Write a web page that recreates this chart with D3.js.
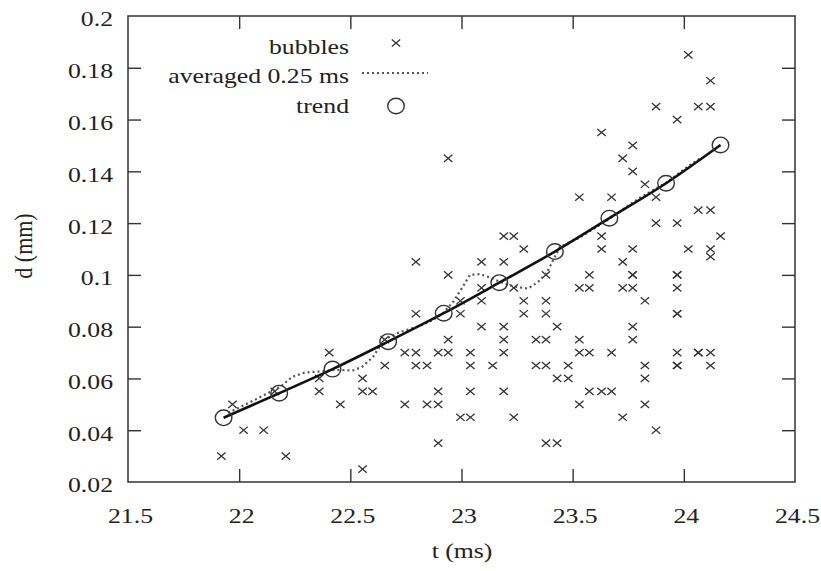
<!DOCTYPE html>
<html>
<head>
<meta charset="utf-8">
<script src="https://cdn.jsdelivr.net/npm/d3@7"></script>
<style>
  body { margin: 0; background: #fff; }
  text { font-family: "Liberation Serif", "DejaVu Serif", serif; fill: #222; }
</style>
</head>
<body>
<svg id="chart" width="821" height="571"></svg>
<script>
//DATA
const xTicks = [21.5, 22, 22.5, 23, 23.5, 24, 24.5];
const yTicks = [0.02, 0.04, 0.06, 0.08, 0.1, 0.12, 0.14, 0.16, 0.18, 0.2];

// bubbles: one time column, with the diameters seen in that column
const bubbleCols = [21.92, 21.97, 22.02, 22.11, 22.16, 22.21, 22.36, 22.405, 22.455, 22.555,
  22.60, 22.655, 22.745, 22.795, 22.845, 22.895, 22.94, 22.995, 23.04, 23.09,
  23.14, 23.19, 23.235, 23.28, 23.335, 23.38, 23.43, 23.48, 23.53, 23.575,
  23.63, 23.675, 23.725, 23.77, 23.825, 23.875, 23.97, 24.02, 24.065, 24.12, 24.165];
const bubbleRows = [
  [0.03], [0.05], [0.04], [0.04], [0.055], [0.03], [0.06, 0.055], [0.07], [0.05], [0.06, 0.055, 0.025],
  [0.055], [0.075, 0.065], [0.07, 0.05], [0.105, 0.085, 0.07, 0.065], [0.065, 0.05],
  [0.07, 0.055, 0.05, 0.035], [0.145, 0.1, 0.075, 0.07], [0.09, 0.085, 0.045],
  [0.07, 0.065, 0.055, 0.045], [0.105, 0.095, 0.09, 0.08],
  [0.065], [0.115, 0.105, 0.08, 0.075, 0.07, 0.055], [0.115, 0.095, 0.045], [0.11, 0.09, 0.085],
  [0.075, 0.065], [0.1, 0.09, 0.085, 0.075, 0.065, 0.035], [0.08, 0.06, 0.035], [0.065, 0.06],
  [0.13, 0.095, 0.075, 0.07, 0.05], [0.1, 0.095, 0.07, 0.055],
  [0.155, 0.115, 0.11, 0.055], [0.13, 0.07, 0.055], [0.145, 0.105, 0.095, 0.045],
  [0.15, 0.14, 0.11, 0.1, 0.1, 0.095, 0.08, 0.075], [0.135, 0.09, 0.065, 0.06, 0.05],
  [0.165, 0.13, 0.12, 0.04], [0.16, 0.12, 0.1, 0.1, 0.095, 0.085, 0.085, 0.07, 0.065, 0.065],
  [0.185, 0.11], [0.165, 0.125, 0.07, 0.07], [0.175, 0.165, 0.125, 0.11, 0.107, 0.07, 0.065], [0.115]
];

const avgT = [21.95, 22.07, 22.184, 22.238, 22.296, 22.364, 22.431, 22.512, 22.552, 22.602,
  22.651, 22.723, 22.813, 22.872, 22.917, 22.962, 23.002, 23.038, 23.083, 23.128,
  23.173, 23.236, 23.299, 23.344, 23.383, 23.413, 23.443, 23.533, 23.664, 23.80, 23.92, 24.02, 24.073];
const avgD = [0.0467, 0.0517, 0.0567, 0.0606, 0.0623, 0.0627, 0.0633, 0.0631, 0.0644, 0.0683,
  0.0749, 0.0779, 0.0803, 0.0826, 0.0853, 0.0895, 0.0949, 0.1, 0.1003, 0.099,
  0.0973, 0.0955, 0.0947, 0.0973, 0.1007, 0.1058, 0.1108, 0.1145, 0.1216, 0.1297, 0.1355, 0.142, 0.145];

const trendT = [21.93, 22.18, 22.42, 22.67, 22.92, 23.17, 23.42, 23.665, 23.92, 24.165];
const trendD = [0.0448, 0.0543, 0.0636, 0.0742, 0.0852, 0.097, 0.109, 0.1219, 0.1354, 0.1502];

const legendLabels = ["bubbles", "averaged 0.25 ms", "trend"];

//LAYOUT
const margin = {top: 16, left: 128},
  width = 667, height = 466;
const stretch = 1.17; // the picture is a bit wider than tall, text too
const tickLen = 13;

const svg = d3.select("#chart");
const g = svg.append("g").attr("transform", "translate(" + margin.left + "," + margin.top + ")");

const x = d3.scaleLinear().domain([21.5, 24.5]).range([0, width]);
const y = d3.scaleLinear().domain([0.02, 0.2]).range([height, 0]);

// axes, ticks pointing inward, mirrored on top/right
const fmt = d => String(d);
const axB = g.append("g").attr("transform", "translate(0," + height + ")")
  .call(d3.axisBottom(x).tickValues(xTicks).tickFormat(fmt).tickSizeInner(-tickLen).tickSizeOuter(0).tickPadding(25));
const axL = g.append("g")
  .call(d3.axisLeft(y).tickValues(yTicks).tickFormat(fmt).tickSizeInner(-tickLen).tickSizeOuter(0).tickPadding(15));
g.append("g").call(d3.axisTop(x).tickValues(xTicks.slice(1, -1)).tickFormat("").tickSizeInner(-tickLen).tickSizeOuter(0));
g.append("g").attr("transform", "translate(" + width + ",0)")
  .call(d3.axisRight(y).tickValues(yTicks.slice(1, -1)).tickFormat("").tickSizeInner(-tickLen).tickSizeOuter(0));

g.selectAll(".domain").remove();
g.selectAll(".tick line").attr("stroke", "#333").attr("stroke-width", 1.4);
// hide end ticks that sit on the frame
axB.selectAll(".tick line").filter(d => d == 21.5 || d == 24.5).remove();
axL.selectAll(".tick line").filter(d => d == 0.02 || d == 0.2).remove();

axB.selectAll("text").attr("font-size", 22).attr("fill", "#222")
  .attr("font-family", "Liberation Serif")
  .attr("x", 2 / stretch).attr("transform", "scale(" + stretch + ",1)");
axL.selectAll("text").attr("font-size", 22).attr("fill", "#222")
  .attr("font-family", "Liberation Serif")
  .attr("x", -15 / stretch).attr("dy", "0.45em").attr("transform", "scale(" + stretch + ",1)");

g.append("rect").attr("width", width).attr("height", height)
  .attr("fill", "none").attr("stroke", "#333").attr("stroke-width", 1.5);

// axis titles
svg.append("text").attr("transform", "translate(462,558) scale(" + stretch + ",1)")
  .attr("text-anchor", "middle").attr("font-size", 22).text("t (ms)");
svg.append("text").attr("transform", "translate(32,246) scale(" + stretch + ",1) rotate(-90)")
  .attr("text-anchor", "middle").attr("font-size", 22).text("d (mm)");

// bubbles
const bubbles = [];
bubbleCols.forEach((t, i) => bubbleRows[i].forEach(d => bubbles.push({t: t, d: d})));
const cross = "M-4.2,-3.6L4.2,3.6M-4.2,3.6L4.2,-3.6";
g.selectAll(".bub").data(bubbles).enter().append("path")
  .attr("class", "bub")
  .attr("d", cross)
  .attr("transform", d => "translate(" + x(d.t) + "," + y(d.d) + ")")
  .attr("stroke", "#333").attr("stroke-width", 1.3).attr("fill", "none");

// averaged line (dotted)
const avg = avgT.map((t, i) => ({t: t, d: avgD[i]}));
g.append("path").datum(avg)
  .attr("d", d3.line().x(d => x(d.t)).y(d => y(d.d)))
  .attr("fill", "none").attr("stroke", "#555").attr("stroke-width", 2.2)
  .attr("stroke-dasharray", "2,3");

// trend
const trend = trendT.map((t, i) => ({t: t, d: trendD[i]}));
g.append("path").datum(trend)
  .attr("d", d3.line().curve(d3.curveMonotoneX).x(d => x(d.t)).y(d => y(d.d)))
  .attr("fill", "none").attr("stroke", "#111").attr("stroke-width", 2.6);
g.selectAll(".tr").data(trend).enter().append("ellipse")
  .attr("class", "tr")
  .attr("cx", d => x(d.t)).attr("cy", d => y(d.d))
  .attr("rx", 8.3).attr("ry", 7.8)
  .attr("fill", "none").attr("stroke", "#333").attr("stroke-width", 1.4);

// legend
const legY = [53.5, 83, 113];
const leg = svg.append("g");
legendLabels.forEach((lab, i) => {
  leg.append("text").attr("transform", "translate(349," + legY[i] + ") scale(" + stretch + ",1)")
    .attr("text-anchor", "end").attr("font-size", 22).text(lab);
});
leg.append("path").attr("d", cross).attr("transform", "translate(396,43)")
  .attr("stroke", "#333").attr("stroke-width", 1.3).attr("fill", "none");
leg.append("line").attr("x1", 362).attr("x2", 428).attr("y1", 73).attr("y2", 73)
  .attr("stroke", "#555").attr("stroke-width", 2.2).attr("stroke-dasharray", "2,3");
leg.append("ellipse").attr("cx", 396).attr("cy", 106).attr("rx", 8.3).attr("ry", 7.8)
  .attr("fill", "none").attr("stroke", "#333").attr("stroke-width", 1.4);
</script>
</body>
</html>
